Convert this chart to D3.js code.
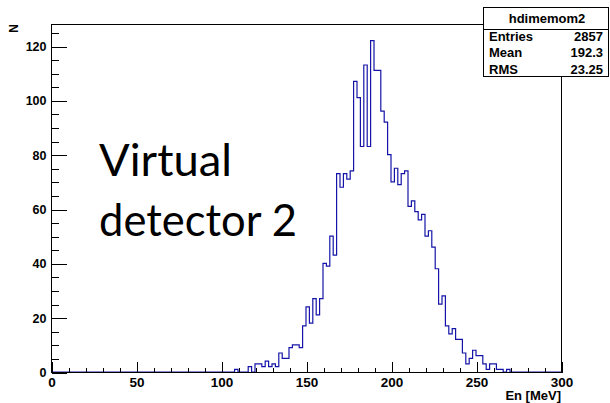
<!DOCTYPE html>
<html>
<head>
<meta charset="utf-8">
<script src="https://cdn.jsdelivr.net/npm/d3@7"></script>
<style>
  body { margin: 0; background: #fff; }
  svg { display: block; }
  text { font-family: "Liberation Sans", Arial, sans-serif; }
</style>
</head>
<body>
<div class="container"></div>
<script>
const WIDTH = 610;
const HEIGHT = 403;

// frame of the plot (pixels)
const LEFT = 51, RIGHT = 561, TOP = 24, BOTTOM = 372;

// histogram: 2 MeV bins, counts start at 106 MeV (everything else is 0)
const X_DOMAIN = [0, 300];
const Y_MAX = 128.1;
const BIN_WIDTH = 2;
const FIRST_BIN = 106;
const counts = [
  0, 1, 0, 0, 0, 2, 0, 3, 3, 2,
  4, 2, 3, 2, 7, 5, 5, 9, 10, 10,
  9, 17, 24, 18, 27, 21, 27, 40, 39, 50,
  43, 73, 68, 73, 71, 74, 107, 101, 83, 113,
  83, 122, 111, 111, 96, 92, 80, 70, 75, 69,
  73, 74, 61, 63, 59, 56, 58, 50, 52, 46,
  38, 25, 28, 17, 14, 16, 12, 12, 7, 3,
  5, 8, 6, 6, 3, 1, 3, 3, 1, 1,
  0, 1, 0
];

const xMajor = [0, 50, 100, 150, 200, 250, 300];
const yMajor = [0, 20, 40, 60, 80, 100, 120];

const statsTitle = 'hdimemom2';
const statsNames = ['Entries', 'Mean', 'RMS'];
const statsValues = ['2857', '192.3', '23.25'];

const noteLines = ['Virtual', 'detector 2'];

var svg = d3.select('.container').append('svg')
  .attr('width', WIDTH)
  .attr('height', HEIGHT);

var x = d3.scaleLinear().domain(X_DOMAIN).range([LEFT, RIGHT]);
var y = d3.scaleLinear().domain([0, Y_MAX]).range([BOTTOM, TOP]);

// histogram outline
var pts = [{e: X_DOMAIN[0], n: 0}];
counts.forEach(function (c, i) {
  pts.push({e: FIRST_BIN + i * BIN_WIDTH, n: c});
});
pts.push({e: FIRST_BIN + counts.length * BIN_WIDTH, n: 0});
pts.push({e: X_DOMAIN[1], n: 0});

var line = d3.line()
  .curve(d3.curveStepAfter)
  .x(function (d) { return x(d.e); })
  .y(function (d) { return y(d.n); });

svg.append('path')
  .attr('d', line(pts))
  .attr('fill', 'none')
  .attr('stroke', '#1414a8')
  .attr('stroke-width', 1.2);

// frame
svg.append('rect')
  .attr('x', LEFT + 0.5).attr('y', TOP + 0.5)
  .attr('width', RIGHT - LEFT).attr('height', BOTTOM - TOP)
  .attr('fill', 'none').attr('stroke', '#000')
  .attr('shape-rendering', 'crispEdges');

// x axis: major ticks with labels, minor ticks every 10
var xMinorTicks = d3.range(0, 301, 10);
var xAxisMinor = d3.axisBottom(x).tickValues(xMinorTicks).tickSize(-5).tickFormat('');
var xAxis = d3.axisBottom(x).tickValues(xMajor).tickSize(-10.5).tickPadding(5);

function styleAxis(g) {
  g.select('.domain').remove();
  g.selectAll('line').attr('stroke', '#000').attr('shape-rendering', 'crispEdges');
  g.selectAll('text')
    .attr('fill', '#000')
    .style('font-family', '"Liberation Sans", Arial, sans-serif')
    .style('font-weight', 'bold');
}

svg.append('g').attr('transform', 'translate(0.5,' + (BOTTOM + 0.5) + ')')
  .call(xAxisMinor).call(styleAxis);
svg.append('g').attr('transform', 'translate(0.5,' + (BOTTOM + 0.5) + ')')
  .call(xAxis).call(styleAxis)
  .selectAll('text').style('font-size', '13.5px');

// y axis: major every 20, minor every 5
var yMinorTicks = d3.range(0, 126, 5);
var yAxisMinor = d3.axisLeft(y).tickValues(yMinorTicks).tickSize(-7.5).tickFormat('');
var yAxis = d3.axisLeft(y).tickValues(yMajor).tickSize(-15).tickPadding(5);

svg.append('g').attr('transform', 'translate(' + (LEFT + 0.5) + ',0.5)')
  .call(yAxisMinor).call(styleAxis);
svg.append('g').attr('transform', 'translate(' + (LEFT + 0.5) + ',0.5)')
  .call(yAxis).call(styleAxis)
  .selectAll('text').style('font-size', '12.5px');

// axis titles
svg.append('text')
  .attr('x', RIGHT).attr('y', 400)
  .attr('text-anchor', 'end')
  .style('font-size', '13px').style('font-weight', 'bold')
  .text('En [MeV]');

svg.append('text')
  .attr('transform', 'translate(18,24) rotate(-90)')
  .attr('text-anchor', 'end')
  .style('font-size', '12px').style('font-weight', 'bold')
  .text('N');

// stats box
var box = svg.append('g');
box.append('rect')
  .attr('x', 483.5).attr('y', 7.5).attr('width', 125).attr('height', 69)
  .attr('fill', '#fff').attr('stroke', '#000')
  .attr('shape-rendering', 'crispEdges');
box.append('line')
  .attr('x1', 483.5).attr('x2', 608.5).attr('y1', 29.5).attr('y2', 29.5)
  .attr('stroke', '#000').attr('shape-rendering', 'crispEdges');
box.append('text')
  .attr('x', 547).attr('y', 23)
  .attr('text-anchor', 'middle')
  .style('font-size', '13px').style('font-weight', 'bold')
  .text(statsTitle);
statsNames.forEach(function (name, i) {
  var by = 40.5 + i * 16.5;
  box.append('text')
    .attr('x', 489).attr('y', by)
    .style('font-size', '13px').style('font-weight', 'bold')
    .text(name);
  box.append('text')
    .attr('x', 603).attr('y', by)
    .attr('text-anchor', 'end')
    .style('font-size', '13px').style('font-weight', 'bold')
    .text(statsValues[i]);
});

// annotation
var widths = [133, 198];
noteLines.forEach(function (t, i) {
  svg.append('text')
    .attr('x', 99).attr('y', 176 + i * 60)
    .attr('textLength', widths[i])
    .attr('lengthAdjust', 'spacingAndGlyphs')
    .style('font-family', 'Lato, "Open Sans", sans-serif')
    .style('font-size', '44px')
    .attr('fill', '#000')
    .text(t);
});
</script>
</body>
</html>
